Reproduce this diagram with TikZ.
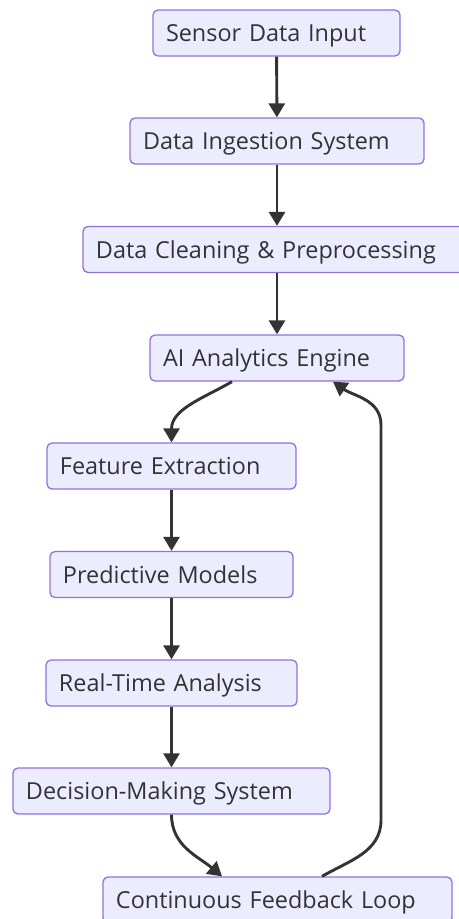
\documentclass[tikz,border=0pt]{standalone}
\usepackage{fontspec}
\setmainfont{Open Sans}
\usepackage{tikz}
\usetikzlibrary{arrows.meta,calc,positioning}
\definecolor{mylavender}{RGB}{236,236,255}
\definecolor{mypurple}{RGB}{147,112,219}
\definecolor{mygrey}{RGB}{51,51,51}
\tikzstyle{block}=[draw=mypurple,fill=mylavender,line width=1.3bp,rounded corners=5bp,
  minimum height=46bp,inner xsep=13bp,inner ysep=0pt,align=left,text=mygrey,
  text height=23bp,text depth=6bp,
  font=\fontsize{23.5}{28}\selectfont]

\begin{document}
\begin{tikzpicture}[
  x=1bp,y=1bp,
  flow/.style={draw=mygrey,line width=2.9bp,
    -{Triangle[width=16bp,length=14bp]}}
]
\useasboundingbox (0,0) rectangle (459,-919);

% main column
\node [block, text width=221bp] (sensor) at (276.5,-33) {Sensor Data Input};
\node [block, text width=268bp] (ingest) at (277,-141) {Data Ingestion System};
\node [block, text width=362bp] (clean) at (277,-249.5) {Data Cleaning \& Preprocessing};
\node [block, text width=228bp] (engine) at (277,-358) {AI Analytics Engine};

% analysis column
\node [block, text width=223bp] (feature) at (171.5,-466) {Feature Extraction};
\node [block, text width=217bp] (predict) at (171.5,-574.5) {Predictive Models};
\node [block, text width=225bp] (realtime) at (171.5,-683) {Real-Time Analysis};
\node [block, text width=291bp] (decision) at (171.5,-791) {Decision-Making System};
\node [block, text width=323bp] (feedback) at (277.5,-900) {Continuous Feedback Loop};

\coordinate (loopup) at (381,-820);
\coordinate (looptop) at (381,-425);

\draw [flow] (sensor) -- (ingest);
\draw [flow] (ingest) -- (clean);
\draw [flow] (clean) -- (engine);
\draw [flow] ($(engine.south)+(-45,0)$) to[out=-150,in=90] (feature.north);
\draw [flow] (feature) -- (predict);
\draw [flow] (predict) -- (realtime);
\draw [flow] (realtime) -- (decision);
\draw [flow] (decision.south) to[out=-90,in=140] ($(feedback.north)+(-55.5,0)$);
\draw [flow] ($(feedback.north)+(44.5,0)$) to[out=30,in=-90] (loopup)
  -- (looptop) to[out=90,in=-35] ($(engine.south)+(56,0)$);

\end{tikzpicture}
\end{document}
